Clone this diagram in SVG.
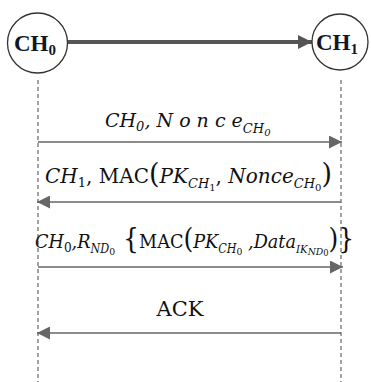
<svg xmlns="http://www.w3.org/2000/svg" width="371" height="382" viewBox="0 0 371 382">
  <style>
    .node { fill: #ffffff; stroke: #333333; stroke-width: 1.3; }
    .nlabel { font-family: "Liberation Serif", "Times New Roman", serif; font-weight: bold; font-size: 23px; fill: #101828; }
    .life { stroke: #666666; stroke-width: 1.2; stroke-dasharray: 4 3; fill: none; }
    .msg { stroke: #666666; stroke-width: 1.6; fill: none; }
    .link { stroke: #555555; stroke-width: 4; fill: none; }
    .lbl { font-family: "DejaVu Serif", serif; fill: #111111; }
    .it { font-style: italic; }
  </style>
  <defs>
    <marker id="head" viewBox="0 0 10 10" refX="10" refY="5" markerUnits="userSpaceOnUse" markerWidth="15" markerHeight="13" orient="auto">
      <path d="M0,0 L10,5 L0,10 z" fill="#666666"/>
    </marker>
    <marker id="headBig" viewBox="0 0 10 10" refX="10" refY="5" markerUnits="userSpaceOnUse" markerWidth="14" markerHeight="14" orient="auto">
      <path d="M0,0 L10,5 L0,10 z" fill="#555555"/>
    </marker>
  </defs>

  <!-- lifelines and messages -->
  <g id="connectors">
    <line class="link" x1="68" y1="42" x2="312" y2="42" marker-end="url(#headBig)"/>
    <line class="life" x1="38" y1="80" x2="38" y2="382"/>
    <line class="life" x1="341" y1="80" x2="341" y2="382"/>
    <line class="msg" x1="38" y1="142" x2="342" y2="142" marker-end="url(#head)"/>
    <line class="msg" x1="341" y1="202" x2="37" y2="202" marker-end="url(#head)"/>
    <line class="msg" x1="38" y1="267" x2="343" y2="267" marker-end="url(#head)"/>
    <line class="msg" x1="341" y1="333" x2="37" y2="333" marker-end="url(#head)"/>
  </g>

  <g id="node-ch0">
    <circle class="node" cx="37.5" cy="43" r="30"/>
    <text class="nlabel" x="14" y="51">CH<tspan style="font-size:15px" dy="4">0</tspan></text>
  </g>
  <g id="node-ch1">
    <circle class="node" cx="340" cy="42" r="28"/>
    <text class="nlabel" x="316" y="50">CH<tspan style="font-size:15px" dy="4">1</tspan></text>
  </g>

  <g id="msg1">
    <text class="lbl it" x="105" y="127" style="font-size:19px">CH<tspan style="font-size:13px" dy="4">0</tspan><tspan dy="-4">, N o n c e</tspan><tspan style="font-size:13px" dy="6">CH</tspan><tspan style="font-size:10px" dy="3">0</tspan></text>
  </g>
  <g id="msg2">
    <text class="lbl" x="45" y="183" style="font-size:20px"><tspan class="it">CH</tspan><tspan style="font-size:13px" dy="4">1</tspan><tspan dy="-4">, MAC</tspan><tspan style="font-size:27px">(</tspan><tspan class="it">PK</tspan><tspan class="it" style="font-size:13px" dy="5">CH</tspan><tspan style="font-size:10px" dy="3">1</tspan><tspan dy="-8">, </tspan><tspan class="it">Nonce</tspan><tspan class="it" style="font-size:13px" dy="5">CH</tspan><tspan style="font-size:10px" dy="3">0</tspan><tspan style="font-size:27px" dy="-8">)</tspan></text>
  </g>
  <g id="msg3" transform="translate(35 0) scale(0.93 1) translate(-35 0)">
    <text class="lbl" x="35" y="248" style="font-size:19px"><tspan class="it">CH</tspan><tspan style="font-size:13px" dy="4">0</tspan><tspan class="it" dy="-4">,R</tspan><tspan class="it" style="font-size:12px" dy="5">ND</tspan><tspan style="font-size:10px" dy="2">0</tspan><tspan style="font-size:27px" dy="-7"> {</tspan><tspan>MAC</tspan><tspan style="font-size:27px">(</tspan><tspan class="it">PK</tspan><tspan class="it" style="font-size:12px" dy="5">CH</tspan><tspan style="font-size:10px" dy="2">0</tspan><tspan class="it" dy="-7"> ,Data</tspan><tspan class="it" style="font-size:11px" dy="5">IK</tspan><tspan class="it" style="font-size:10px" dy="2">ND</tspan><tspan style="font-size:9px" dy="1">0</tspan><tspan style="font-size:27px" dy="-8">)}</tspan></text>
  </g>
  <g id="msg4">
    <text class="lbl" x="180" y="316" text-anchor="middle" style="font-size:21px">ACK</text>
  </g>
</svg>
